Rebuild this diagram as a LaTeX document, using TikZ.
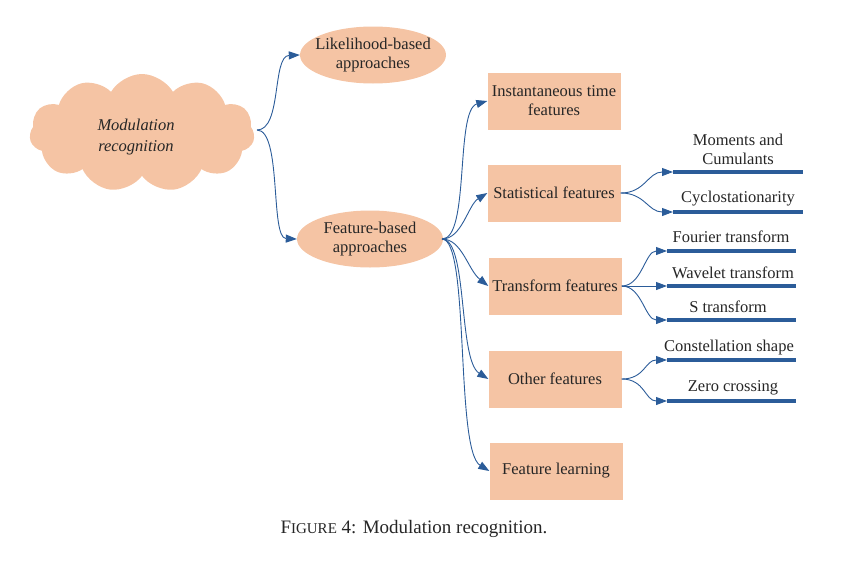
\documentclass[tikz,border=0pt]{standalone}
\usepackage{fontspec}
\setmainfont{Liberation Serif}
\usetikzlibrary{shapes.symbols,shapes.geometric,arrows.meta}
\definecolor{peach}{RGB}{245,196,164}
\definecolor{arrblue}{RGB}{43,92,153}
\begin{document}
\begin{tikzpicture}[x=1pt,y=-1pt,
  every node/.style={font=\fontsize{16.5}{19}\selectfont, text=black!85},
  cloudbox/.style={cloud, cloud puffs=11, cloud puff arc=120, aspect=2, fill=peach, draw=none, minimum width=225pt, minimum height=118pt, inner sep=0pt, align=center},
  ellbox/.style={ellipse, fill=peach, draw=none, minimum width=146pt, minimum height=57pt, inner sep=0pt},
  txt/.style={align=center, inner sep=0pt},
  featbox/.style={rectangle, fill=peach, draw=none, minimum width=133pt, minimum height=57pt, inner sep=0pt, align=center},
  conn/.style={draw=arrblue, line width=0.9pt, -{Triangle[length=11pt,width=8pt]}},
  bar/.style={draw=arrblue, line width=4pt},
  lbl/.style={anchor=base, inner sep=0pt, align=center}
]
\useasboundingbox (0,0) rectangle (857,565);

\node[cloudbox] (mr) at (142,133) {};
\node[anchor=center, align=center, font=\fontsize{16.5}{21}\selectfont\itshape] (mrt) at (136,137) {Modulation\\recognition};

\node[ellbox] (lb) at (373,55) {};
\node[txt] (lbt) at (lb) {Likelihood-based\\approaches};
\node[ellbox] (fb) at (370,239) {};
\node[txt] (fbt) at (fb) {Feature-based\\approaches};

\node[featbox] (b1) at (554,101) {Instantaneous time\\features};
\node[featbox] (b2) at (554,193) {Statistical features};
\node[featbox] (b3) at (555,286) {Transform features};
\node[featbox] (b4) at (555,379) {Other features};
\node[featbox] (b5) at (556,471) {Feature learning};

% cloud to ellipses
\coordinate (mrR) at (257,130);
\draw[conn] (mrR) .. controls (282,130) and (272,56) .. (lb.west);
\draw[conn] (mrR) .. controls (282,130) and (270,238) .. (fb.west);

% ellipse to boxes
\coordinate (fbR) at (442,239);
\draw[conn] (fbR) .. controls (470,239) and (455,110) .. (b1.west);
\draw[conn] (fbR) .. controls (462,239) and (468,205) .. (b2.west);
\draw[conn] (fbR) .. controls (462,239) and (468,270) .. (b3.west);
\draw[conn] (fbR) .. controls (468,239) and (458,360) .. (b4.west);
\draw[conn] (fbR) .. controls (470,239) and (455,450) .. (b5.west);

% bars
\coordinate (s1a) at (673,172); \coordinate (s1b) at (803,172);
\coordinate (s2a) at (673,212); \coordinate (s2b) at (803,212);
\coordinate (t1a) at (667,251); \coordinate (t1b) at (796,251);
\coordinate (t2a) at (667,286); \coordinate (t2b) at (796,286);
\coordinate (t3a) at (667,320); \coordinate (t3b) at (796,320);
\coordinate (o1a) at (667,360); \coordinate (o1b) at (796,360);
\coordinate (o2a) at (667,401); \coordinate (o2b) at (796,401);
\foreach \a/\b in {s1a/s1b,s2a/s2b,t1a/t1b,t2a/t2b,t3a/t3b,o1a/o1b,o2a/o2b}
  \draw[bar] (\a) -- (\b);

\node[lbl] (s1l) at (738,164) {Moments and\\Cumulants};
\node[lbl] (s2l) at (738,202) {Cyclostationarity};
\node[lbl] (t1l) at (731,242) {Fourier transform};
\node[lbl] (t2l) at (733,278) {Wavelet transform};
\node[lbl] (t3l) at (728,312) {S transform};
\node[lbl] (o1l) at (729,351) {Constellation shape};
\node[lbl] (o2l) at (733,391) {Zero crossing};

% boxes to bars
\draw[conn] (b2.east) .. controls (645,193) and (648,172) .. (s1a);
\draw[conn] (b2.east) .. controls (645,193) and (648,212) .. (s2a);
\draw[conn] (b3.east) .. controls (642,286) and (645,251) .. (t1a);
\draw[conn] (b3.east) -- (t2a);
\draw[conn] (b3.east) .. controls (642,286) and (645,320) .. (t3a);
\draw[conn] (b4.east) .. controls (645,379) and (645,360) .. (o1a);
\draw[conn] (b4.east) .. controls (645,379) and (645,401) .. (o2a);

\node[anchor=base, inner sep=0pt, font=\fontsize{19}{22}\selectfont] (cap) at (414,533) {F{\fontsize{15}{18}\selectfont IGURE} 4: Modulation recognition.};
\end{tikzpicture}
\end{document}
